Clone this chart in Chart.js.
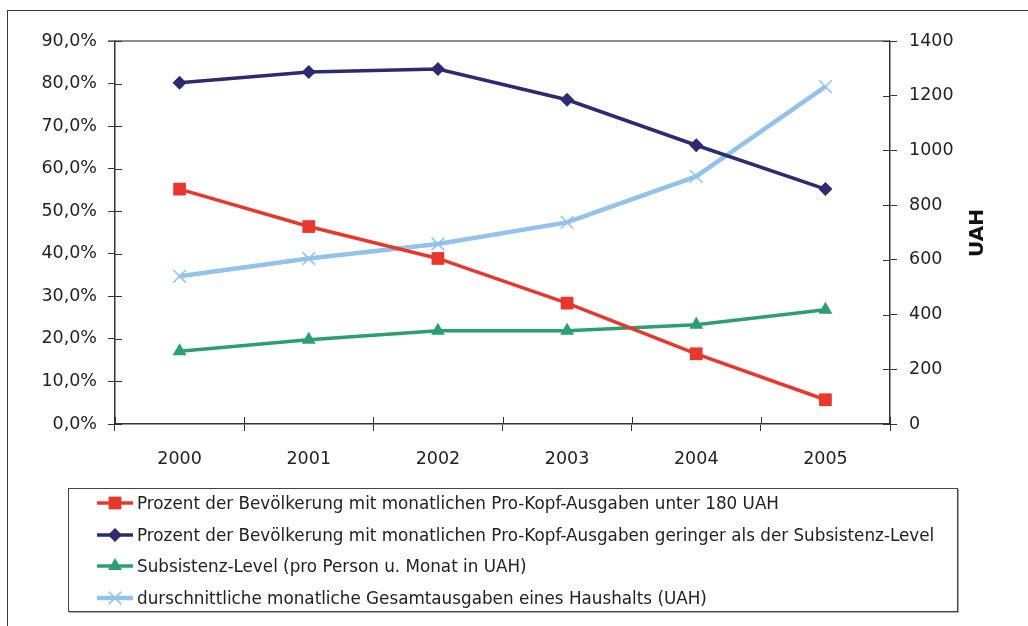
<!DOCTYPE html>
<html>
<head>
<meta charset="utf-8">
<script src="https://cdn.jsdelivr.net/npm/chart.js@4.4.1/dist/chart.umd.min.js"></script>
<style>
  html, body { margin: 0; padding: 0; background: #fff; }
  #wrap { position: relative; width: 1028px; height: 626px; overflow: hidden; font-family: "DejaVu Sans", sans-serif; }
  #frame { position: absolute; left: 7px; top: 10px; width: 1100px; height: 700px; border-left: 1.5px solid #3a3a3a; border-top: 1.5px solid #3a3a3a; }
  #chart { position: absolute; left: 0; top: 0; }
  #legend { position: absolute; left: 68px; top: 488px; width: 890px; height: 124px; border: 1px solid #444; box-shadow: 1px 1px 0 #aaa; box-sizing: border-box; background: #fff; }
  .row { position: absolute; left: 28px; height: 24px; display: flex; align-items: center; font-size: 16.8px; color: #222; white-space: nowrap; }
  .row canvas { margin-right: 4px; }
</style>
</head>
<body>
<div id="wrap">
  <div id="frame"></div>
  <canvas id="chart" width="1028" height="626"></canvas>
  <div id="legend"></div>
</div>
<script>
// daten -------------
const years = ['2000', '2001', '2002', '2003', '2004', '2005'];
const under180 = [55.2, 46.4, 38.9, 28.4, 16.5, 5.7];          // %
const underSubsistence = [80.2, 82.7, 83.4, 76.2, 65.5, 55.2];  // %
const subsistenceLevel = [266, 308, 341, 341, 363, 418];       // UAH
const householdSpending = [540, 605, 658, 737, 905, 1233];     // UAH
const leftTicks = [0, 10, 20, 30, 40, 50, 60, 70, 80, 90];
const rightTicks = [0, 200, 400, 600, 800, 1000, 1200, 1400];

const labels = [
  'Prozent der Bevölkerung mit monatlichen Pro-Kopf-Ausgaben unter 180 UAH',
  'Prozent der Bevölkerung mit monatlichen Pro-Kopf-Ausgaben geringer als der Subsistenz-Level',
  'Subsistenz-Level (pro Person u. Monat in UAH)',
  'durschnittliche monatliche Gesamtausgaben eines Haushalts (UAH)'
];

const fontTick = { family: '"DejaVu Sans", sans-serif', size: 17.5 };
const axisColor = '#333';

// achsen-deko: innere ticks, oberer rand, UAH titel
const axisDeco = {
  id: 'axisDeco',
  afterDraw(chart) {
    const { ctx, chartArea: a, scales } = chart;
    const line = (x1, y1, x2, y2) => { ctx.beginPath(); ctx.moveTo(x1, y1); ctx.lineTo(x2, y2); ctx.stroke(); };
    ctx.save();
    ctx.strokeStyle = '#666';
    ctx.lineWidth = 1.5;
    line(a.left - 7, a.top, a.right, a.top);
    ctx.strokeStyle = axisColor;
    ctx.lineWidth = 1;
    scales.y.ticks.forEach((t, i) => {
      const y = Math.round(scales.y.getPixelForTick(i)) + 0.5;
      line(a.left, y, a.left + 7, y);
    });
    scales.y1.ticks.forEach((t, i) => {
      const y = Math.round(scales.y1.getPixelForTick(i)) + 0.5;
      line(a.right - 7, y, a.right, y);
    });
    const half = (scales.x.getPixelForValue(1) - scales.x.getPixelForValue(0)) / 2;
    for (let i = 0; i <= years.length; i++) {
      const x = Math.round(scales.x.getPixelForValue(i) - half) + 0.5;
      line(x, a.bottom - 7, x, a.bottom);
    }
    // rechter achsentitel, von unten nach oben
    ctx.translate(978, 233);
    ctx.rotate(-Math.PI / 2);
    ctx.fillStyle = '#111';
    ctx.font = 'bold 20px "DejaVu Sans", sans-serif';
    ctx.textAlign = 'center';
    ctx.textBaseline = 'middle';
    ctx.fillText('UAH', 0, 0);
    ctx.restore();
  }
};

const chart = new Chart(document.getElementById('chart'), {
  type: 'line',
  data: {
    labels: years,
    datasets: [
      {
        label: labels[0], data: under180, yAxisID: 'y',
        borderColor: '#e8372c', backgroundColor: '#e8372c',
        borderWidth: 3.5, pointStyle: 'rect', pointRadius: 9, pointBorderWidth: 0
      }, {
        label: labels[1], data: underSubsistence, yAxisID: 'y',
        borderColor: '#2c2a70', backgroundColor: '#2c2a70',
        borderWidth: 3.5, pointStyle: 'rectRot', pointRadius: 7, pointBorderWidth: 0
      }, {
        label: labels[2], data: subsistenceLevel, yAxisID: 'y1',
        borderColor: '#2b9e72', backgroundColor: '#2b9e72',
        borderWidth: 3.5, pointStyle: 'triangle', pointRadius: 8, pointBorderWidth: 0
      }, {
        label: labels[3], data: householdSpending, yAxisID: 'y1',
        borderColor: '#93c2ea', backgroundColor: '#93c2ea',
        borderWidth: 4.5, pointStyle: 'crossRot', pointRadius: 9, pointBorderWidth: 1.5
      }
    ]
  },
  options: {
    responsive: false,
    animation: false,
    layout: { padding: { top: 41, left: 0, right: 0, bottom: 152 } },
    elements: { line: { tension: 0 } },
    scales: {
      x: {
        offset: true,
        grid: { display: true, drawOnChartArea: false, tickLength: 7, color: axisColor, offset: true },
        border: { display: true, color: axisColor, width: 1.5 },
        ticks: { color: '#222', font: fontTick, padding: 18, maxRotation: 0 },
        afterFit: (s) => { s.height = 50; }
      },
      y: {
        position: 'left',
        min: 0, max: 90,
        afterBuildTicks: (s) => { s.ticks = leftTicks.map(v => ({ value: v })); },
        grid: { display: true, drawOnChartArea: false, tickLength: 7, color: axisColor },
        border: { display: true, color: axisColor, width: 1.5 },
        ticks: {
          color: '#222', font: fontTick, padding: 11,
          callback: (v) => v.toFixed(1).replace('.', ',') + '%'
        },
        afterFit: (s) => { s.width = 115; }
      },
      y1: {
        position: 'right',
        min: 0, max: 1400,
        afterBuildTicks: (s) => { s.ticks = rightTicks.map(v => ({ value: v })); },
        grid: { display: true, drawOnChartArea: false, tickLength: 7, color: axisColor },
        border: { display: true, color: axisColor, width: 1.5 },
        ticks: { color: '#222', font: fontTick, padding: 12, callback: (v) => String(v) },
        afterFit: (s) => { s.width = 138; }
      }
    },
    plugins: {
      legend: { display: false },
      tooltip: { enabled: false }
    }
  },
  plugins: [axisDeco]
});

// legende als html, symbole mit Chart.helpers.drawPoint
const legend = document.getElementById('legend');
const rowTops = [2, 34, 65, 97];
chart.data.datasets.forEach((ds, i) => {
  const row = document.createElement('div');
  row.className = 'row';
  row.style.top = rowTops[i] + 'px';
  const c = document.createElement('canvas');
  c.width = 36; c.height = 24;
  const g = c.getContext('2d');
  g.strokeStyle = ds.borderColor;
  g.lineWidth = ds.borderWidth;
  g.beginPath(); g.moveTo(0, 12); g.lineTo(36, 12); g.stroke();
  g.fillStyle = ds.backgroundColor;
  g.lineWidth = ds.pointBorderWidth || 0.01;
  Chart.helpers.drawPoint(g, { pointStyle: ds.pointStyle, radius: ds.pointRadius, borderWidth: ds.pointBorderWidth, rotation: 0 }, 18, 12);
  row.appendChild(c);
  const span = document.createElement('span');
  span.textContent = ds.label;
  row.appendChild(span);
  legend.appendChild(row);
});
</script>
</body>
</html>
